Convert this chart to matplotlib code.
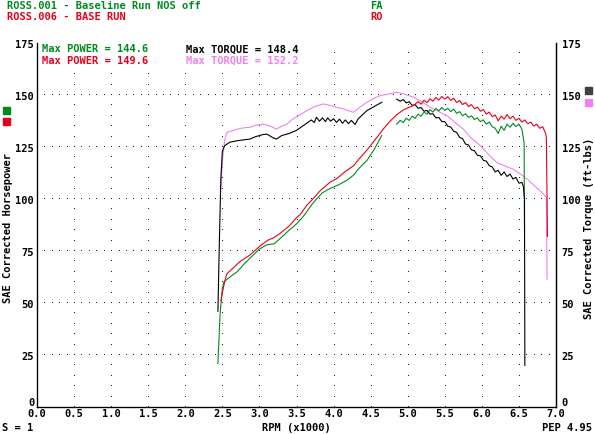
import matplotlib
matplotlib.use("Agg")
import matplotlib.pyplot as plt
import numpy as np

# dyno sheet: two runs, power (hp) and torque (ft-lbs) vs rpm (x1000)

W, H = 595, 435

# baseline run (ROSS.001) - power, green
base_hp_rpm = [2.44, 2.47, 2.50, 2.52, 2.55, 2.62, 2.70, 2.80, 2.90, 3.00, 3.10, 3.20,
               3.28, 3.40, 3.50, 3.60, 3.70, 3.77, 3.85, 3.95, 4.05, 4.18, 4.27, 4.35,
               4.45, 4.55, 4.65, np.nan,
               4.85, 4.90, 4.94, 4.98, 5.02, 5.06, 5.10, 5.14, 5.18, 5.22, 5.26, 5.30,
               5.34, 5.38, 5.42, 5.46, 5.50, 5.54, 5.58, 5.62, 5.66, 5.70, 5.74, 5.78,
               5.82, 5.86, 5.90, 5.94, 5.98, 6.02, 6.06, 6.10, 6.14, 6.18, 6.22, 6.26,
               6.30, 6.34, 6.38, 6.42, 6.46, 6.50, 6.54, 6.57, 6.575]
base_hp = [21, 45, 57, 60, 61, 63, 65, 69, 72.5, 76, 78, 78.5,
           81, 85, 88, 92, 97, 100, 103, 105, 106.5, 109, 111.5, 115,
           118.5, 124, 130.5, np.nan,
           136, 137.8, 136.8, 138.8, 137.8, 139.8, 138.8, 140.8, 139.8, 141.8, 140.8, 143,
           141.8, 143.6, 142.4, 144, 142.6, 143.6, 142, 143.2, 141.2, 142, 140, 141,
           139.2, 140, 138.2, 139, 137.2, 138, 136, 137, 134.8, 134, 131.5, 135,
           133, 136, 134.5, 136.4, 134.8, 136, 133.6, 127, 85]

# baseline run - torque, black
base_tq_rpm = [2.44, 2.46, 2.48, 2.50, 2.53, 2.60, 2.70, 2.80, 2.87, 2.95, 3.05, 3.10,
               3.18, 3.23, 3.30, 3.40, 3.50, 3.60, 3.70, 3.74, 3.77, 3.81, 3.85, 3.89,
               3.92, 3.96, 4.00, 4.04, 4.08, 4.12, 4.16, 4.20, 4.24, 4.29, 4.33, 4.45,
               4.55, 4.65, np.nan,
               4.85, 4.90, 4.94, 4.98, 5.02, 5.06, 5.10, 5.14, 5.18, 5.22, 5.26, 5.30,
               5.34, 5.38, 5.42, 5.46, 5.50, 5.54, 5.58, 5.62, 5.66, 5.70, 5.74, 5.78,
               5.82, 5.86, 5.90, 5.94, 5.98, 6.02, 6.06, 6.10, 6.14, 6.18, 6.22, 6.26,
               6.30, 6.34, 6.38, 6.42, 6.46, 6.50, 6.54, 6.56, 6.575, 6.58]
base_tq = [46, 80, 110, 123, 125.6, 127.3, 128, 128.5, 128.8, 130, 131, 131.2,
           129.5, 128.8, 130.5, 131.5, 133, 135.5, 138, 136.8, 139.3, 137.4, 139, 137.2,
           139, 137.4, 138.6, 136.8, 138.4, 136.4, 138, 136.2, 137.8, 135.8, 138.5, 142.5,
           144.5, 146.5, np.nan,
           148, 147, 147.8, 146.2, 146.8, 145, 145.4, 143.6, 144, 142.2, 142.6, 140.8,
           141, 139, 139.2, 137.2, 137.2, 135, 134.6, 132.6, 132, 129.6, 129, 126.4,
           126, 123.6, 123.2, 121, 120.8, 118.6, 118.2, 116, 115.4, 113, 113.8, 111.4,
           113, 110.8, 112, 109.6, 110.4, 107.6, 108, 106, 100, 20]

# base run (ROSS.006) - power, red
run_hp_rpm = [2.48, 2.50, 2.53, 2.56, 2.65, 2.74, 2.87, 3.01, 3.12, 3.20, 3.28, 3.40,
              3.50, 3.55, 3.64, 3.72, 3.82, 3.95, 4.05, 4.15, 4.27, 4.35, 4.45, 4.55,
              4.67, 4.75, 4.85, 4.95, 5.08, 5.14, 5.18, 5.22, 5.26, 5.30, 5.34, 5.38,
              5.42, 5.46, 5.50, 5.54, 5.58, 5.62, 5.66, 5.70, 5.74, 5.78, 5.82, 5.86,
              5.90, 5.94, 5.98, 6.02, 6.06, 6.10, 6.14, 6.18, 6.22, 6.26, 6.30, 6.34,
              6.38, 6.42, 6.46, 6.50, 6.54, 6.58, 6.62, 6.66, 6.70, 6.74, 6.78, 6.82,
              6.86, 6.87, 6.885]
run_hp = [51, 55, 60, 64, 67, 70, 73, 77.5, 80.3, 81.5, 83.5, 87,
          91, 92.5, 97, 100, 104, 108, 110, 113, 116, 119.5, 123.5, 128,
          133.6, 137, 140.5, 143, 145, 146.8, 145.6, 147.5, 146.3, 148.2, 147, 148.8,
          147.6, 149.3, 148, 149.2, 147.4, 148.4, 146.4, 147.4, 145.4, 146.4, 144.4, 145.4,
          143.4, 144.2, 142.2, 143, 140.8, 141.8, 139.6, 140.4, 137.6, 139.8, 138.4, 140.6,
          138.6, 139.8, 137.8, 138.8, 137, 138, 136.2, 137, 135, 136, 134, 134.8,
          131.5, 129.6, 82]

# base run - torque, pink
run_tq_rpm = [2.48, 2.50, 2.53, 2.56, 2.65, 2.75, 2.87, 2.95, 3.05, 3.15, 3.23, 3.30,
              3.37, 3.45, 3.55, 3.64, 3.75, 3.86, 3.95, 4.05, 4.13, 4.20, 4.27, 4.35,
              4.45, 4.55, 4.63, 4.75, 4.85, 4.95, 5.08, 5.20, 5.30, 5.42, 5.53, 5.65,
              5.75, 5.85, 5.98, 6.10, 6.20, 6.30, 6.42, 6.52, 6.61, 6.72, 6.80, 6.87,
              6.88]
run_tq = [105, 118, 128, 132, 133, 134, 134.5, 135.5, 136, 135, 133.6, 135,
          136, 138.5, 140.5, 142.5, 144.5, 145.7, 145, 144, 143.3, 142.5, 141.7, 144,
          146.5, 148.5, 149.7, 150.5, 151.3, 150.5, 148.9, 146.5, 144.1, 142, 140, 136.5,
          133.6, 129.5, 125.6, 121, 117.6, 116, 114.4, 112, 109.6, 106, 103.5, 100.8,
          61.5]

y_ticks = [0, 25, 50, 75, 100, 125, 150, 175]
x_ticks = [0.0, 0.5, 1.0, 1.5, 2.0, 2.5, 3.0, 3.5, 4.0, 4.5, 5.0, 5.5, 6.0, 6.5, 7.0]

GREEN = '#008a1e'
RED = '#e8001a'
PINK = '#f080f0'
FONT = 'DejaVu Sans Mono'
FS = 7.5


def ftext(x, y, s, **kw):
    #place text by pixel position of the reference
    kw.setdefault('fontsize', FS)
    kw.setdefault('family', FONT)
    kw.setdefault('fontweight', 'bold')
    kw.setdefault('va', 'center')
    fig.text(x / W, 1 - y / H, s, **kw)


fig = plt.figure(figsize=(W / 100, H / 100), dpi=100)
ax = fig.add_axes([37 / W, 1 - 408 / H, (556 - 37) / W, (408 - 44) / H])
ax.set_xlim(0, 7)
ax.set_ylim(0, 175)

# dotted grid, one pixel per dot
for gy in y_ticks[1:]:
    gx = np.arange(0, 7.001, 0.1)
    ax.plot(gx, np.full_like(gx, gy), linestyle='none', marker=',', color='#202020')
for gx in x_ticks[1:-1]:
    gy = np.arange(0, 175.1, 5)
    ax.plot(np.full_like(gy, gx), gy, linestyle='none', marker=',', color='#202020')

lw = 0.8
ax.plot(run_tq_rpm, run_tq, color=PINK, lw=lw)
ax.plot(base_hp_rpm, base_hp, color=GREEN, lw=lw)
ax.plot(base_tq_rpm, base_tq, color='black', lw=lw)
ax.plot(run_hp_rpm, run_hp, color=RED, lw=lw)

ax.spines['top'].set_visible(False)
for side in ['left', 'right', 'bottom']:
    ax.spines[side].set_linewidth(0.9)

ax.set_xticks(x_ticks)
ax.set_xticklabels(['%.1f' % v for v in x_ticks])
ax.set_yticks(y_ticks)
ax.tick_params(axis='y', length=0, labelsize=FS, pad=2)
ax.tick_params(axis='x', length=0, labelsize=FS, pad=1)
for lab in ax.get_xticklabels() + ax.get_yticklabels():
    lab.set_family(FONT)
    lab.set_fontweight('bold')
ax.get_yticklabels()[0].set_va('bottom')

ax2 = ax.twinx()
ax2.set_ylim(0, 175)
ax2.set_yticks(y_ticks)
ax2.tick_params(length=0, labelsize=FS, pad=4)
ax2.spines['top'].set_visible(False)
ax2.spines['right'].set_linewidth(0.9)
for lab in ax2.get_yticklabels():
    lab.set_family(FONT)
    lab.set_fontweight('bold')
ax2.get_yticklabels()[0].set_va('bottom')

# max values inside the plot, drawn over the grid dots
box = dict(facecolor='white', edgecolor='none', pad=0.5)
max_labels = [(0.07, 172.5, 'Max POWER = 144.6', GREEN),
              (0.07, 166.8, 'Max POWER = 149.6', RED),
              (2.01, 172.5, 'Max TORQUE = 148.4', 'black'),
              (2.01, 166.8, 'Max TORQUE = 152.2', PINK)]
for tx, ty, s, col in max_labels:
    ax.text(tx, ty, s, color=col, fontsize=FS, family=FONT, fontweight='bold',
            va='center', bbox=box, zorder=5)

# header
ftext(7, 6, 'ROSS.001 - Baseline Run NOS off', color=GREEN)
ftext(7, 17, 'ROSS.006 - BASE RUN', color=RED)
ftext(370, 6, 'FA', color=GREEN)
ftext(370, 17, 'RO', color=RED)

# axis titles
ftext(8, 228, 'SAE Corrected Horsepower', rotation=90, ha='center')
ftext(589, 228, 'SAE Corrected Torque (ft-lbs)', rotation=90, ha='center')
ftext(2, 428, 'S = 1')
ftext(296, 428, 'RPM (x1000)', ha='center')
ftext(592, 428, 'PEP 4.95', ha='right')

# colour keys next to the axis titles
for yk, col in [(112, GREEN), (123, RED)]:
    fig.patches.append(plt.Rectangle((3 / W, 1 - (yk + 3) / H), 7 / W, 7 / H,
                                     color=col, transform=fig.transFigure))
for yk, col in [(92, '#404040'), (104, PINK)]:
    fig.patches.append(plt.Rectangle((585 / W, 1 - (yk + 3) / H), 7 / W, 7 / H,
                                     color=col, transform=fig.transFigure))

fig.savefig('out.png', dpi=100)
